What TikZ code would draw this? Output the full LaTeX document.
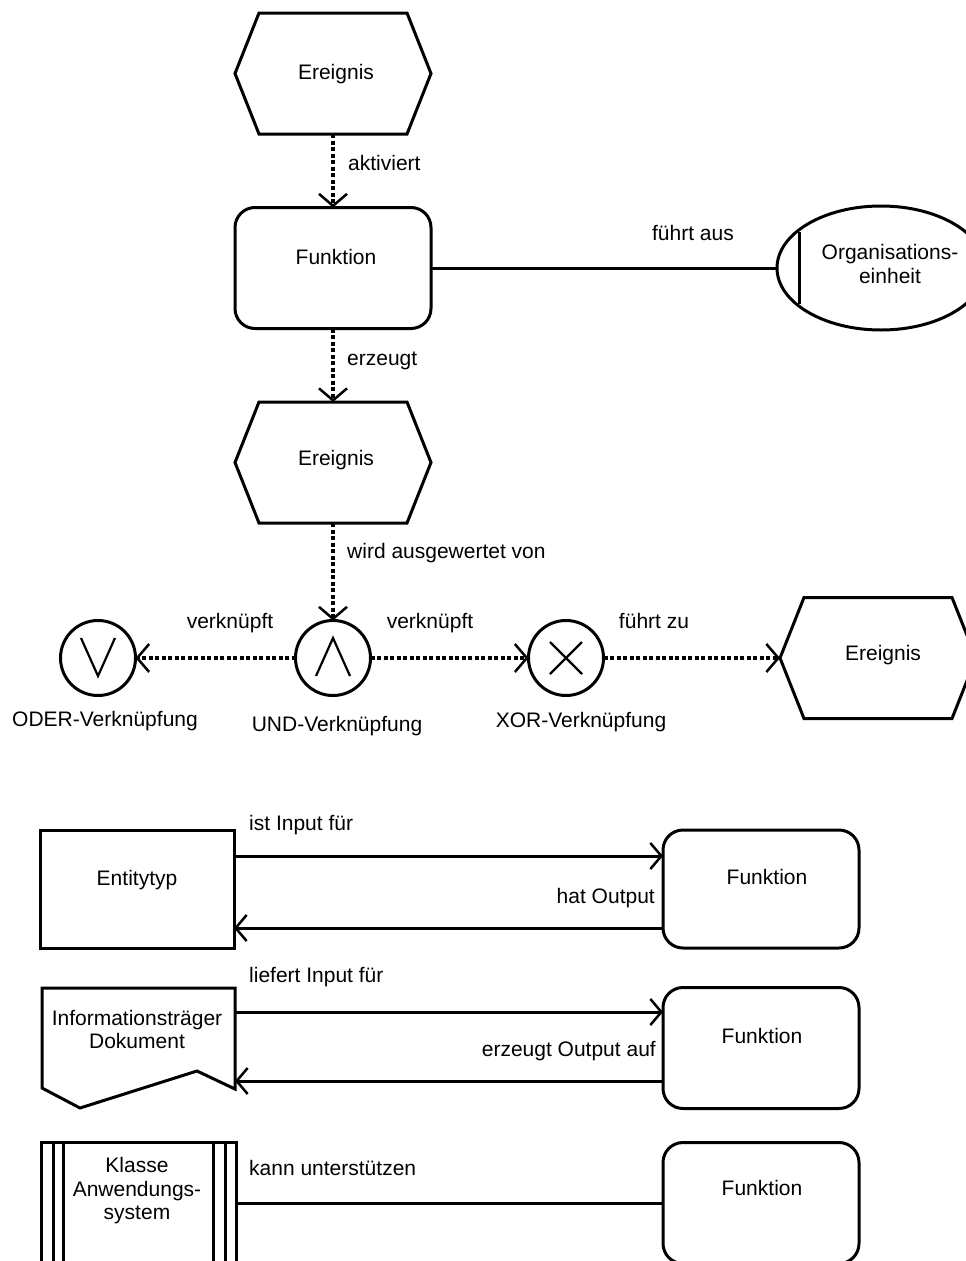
\documentclass[tikz,border=0pt]{standalone}
\usepackage{fontspec}
\setmainfont{Liberation Sans}
\usetikzlibrary{arrows.meta,calc,shapes.geometric}

\begin{document}
\begin{tikzpicture}[x=1pt, y=-1pt,
  txt/.style={font=\fontsize{21}{23.5}\selectfont, inner sep=0pt, text height=15pt, text depth=0pt},
  mtxt/.style={font=\fontsize{21}{23.5}\selectfont, inner sep=0pt, align=center},
  shp/.style={draw, line width=3pt, inner sep=0pt, outer sep=0pt},
  evt/.style={rectangle, inner sep=0pt, outer sep=0pt, minimum width=196pt, minimum height=121pt},
  fnc/.style={shp, rectangle, rounded corners=20pt, minimum width=196pt, minimum height=121pt},
  gate/.style={shp, circle, minimum size=75pt},
  barb/.style={-{Straight Barb[length=12pt,width=28pt,line width=2.5pt]}},
  flow/.style={line width=3.5pt, dash pattern=on 4pt off 2.5pt, barb},
  link/.style={line width=3pt},
  data/.style={line width=3pt, -{Straight Barb[length=11pt,width=26pt,line width=2.5pt]}},
  symb/.style={line width=2.2pt},
]
\useasboundingbox (0,0) rectangle (966,1261);

% ---------- event-driven process chain ----------
\node[evt] (e1) at (333,73.5) {};
\node[fnc] (f1) at (333,268) {};
\node[evt] (e2) at (333,462.5) {};
\node[shp, ellipse, minimum width=208pt, minimum height=124pt] (oe) at (881,268) {};
\node[gate] (or)  at (98,658) {};
\node[gate] (and) at (333,658) {};
\node[gate] (xor) at (566,658) {};
\node[evt] (e3) at (878,658) {};

% event hexagons
\foreach \n in {e1,e2,e3}{
  \draw[line width=3pt]
    (\n.west) -- ([xshift=24pt]\n.north west) -- ([xshift=-24pt]\n.north east)
    -- (\n.east) -- ([xshift=-24pt]\n.south east) -- ([xshift=24pt]\n.south west) -- cycle;
}

% organisational unit bar
\draw[line width=3pt] ($(oe.west)+(22,-36)$) -- ($(oe.west)+(22,36)$);

% connector symbols
\draw[symb] ($(or.center)+(-17,-20)$) -- ($(or.center)+(0,18)$) -- ($(or.center)+(17,-20)$);
\draw[symb] ($(and.center)+(-17,18)$) -- ($(and.center)+(0,-20)$) -- ($(and.center)+(17,18)$);
\draw[symb] ($(xor.center)+(-16,-16)$) -- ($(xor.center)+(16,16)$);
\draw[symb] ($(xor.center)+(-16,16)$) -- ($(xor.center)+(16,-16)$);

% texts in shapes
\node[txt] (e1t) at (336,72) {Ereignis};
\node[txt] (f1t) at (336,257) {Funktion};
\node[txt] (e2t) at (336,458) {Ereignis};
\node[txt] (e3t) at (883,653) {Ereignis};
\node[mtxt] (oet) at (890,264) {Organisations-\\einheit};
\node[txt] (ort)  at (105,719) {ODER-Verknüpfung};
\node[txt] (andt) at (337,724) {UND-Verknüpfung};
\node[txt] (xort) at (581,720) {XOR-Verknüpfung};

% connectors
\draw[flow] (e1.south) -- (f1.north);
\draw[flow] (f1.south) -- (e2.north);
\draw[link] (f1.east) -- (oe.west);
\draw[flow] (e2.south) -- (and.north);
\draw[flow] (and.west) -- (or.east);
\draw[flow] (and.east) -- (xor.west);
\draw[flow] (xor.east) -- (e3.west);

% connector labels
\node[txt, anchor=west] (l1) at (348,163) {aktiviert};
\node[txt, anchor=west] (l2) at (347,358) {erzeugt};
\node[txt] (l3) at (693,233) {führt aus};
\node[txt, anchor=west] (l4) at (347,551) {wird ausgewertet von};
\node[txt] (l5) at (230,621) {verknüpft};
\node[txt] (l6) at (430,621) {verknüpft};
\node[txt] (l7) at (654,621) {führt zu};

% ---------- data, documents and systems ----------
\node[shp, rectangle, minimum width=194pt, minimum height=118pt] (en) at (137,889) {};
\node[fnc, minimum height=118pt] (f2) at (761,889) {};
\node[evt, minimum width=193pt, minimum height=120pt] (doc) at (138.5,1048) {};
\node[fnc] (f3) at (761,1048) {};
\node[shp, rectangle, minimum width=195pt, minimum height=121pt] (cls) at (138.5,1203) {};
\node[fnc] (f4) at (761,1203) {};

% document outline with wavy bottom
\draw[line width=3pt] (doc.north west) -- (doc.north east) -- ([yshift=19pt]doc.south east)
  -- ([xshift=-38pt,yshift=37pt]doc.south east) -- ([xshift=38pt]doc.south west)
  -- ([yshift=20pt]doc.south west) -- cycle;

% application system class bars
\foreach \dx in {12,22}{
  \draw[line width=3pt] ([xshift=\dx pt]cls.north west) -- ([xshift=\dx pt]cls.south west);
}
\foreach \dx in {-11,-23}{
  \draw[line width=3pt] ([xshift=\dx pt]cls.north east) -- ([xshift=\dx pt]cls.south east);
}

\node[txt] (ent) at (137,878) {Entitytyp};
\node[txt] (f2t) at (767,877) {Funktion};
\node[mtxt] (doct) at (137,1029.5) {Informationsträger\\Dokument};
\node[txt] (f3t) at (762,1036) {Funktion};
\node[mtxt] (clst) at (137,1191) {Klasse\\Anwendungs-\\system};
\node[txt] (f4t) at (762,1188) {Funktion};

\draw[data] ([yshift=33pt]en.east) -- ([yshift=33pt]f2.west);
\draw[data] ([yshift=-39pt]f2.west) -- ([yshift=-39pt]en.east);
\draw[data] ([yshift=36pt]doc.east) -- ([yshift=36pt]f3.west);
\draw[data] ([yshift=-33pt]f3.west) -- ([yshift=-33pt]doc.east);
\draw[link] (cls.east) -- (f4.west);

\node[txt, anchor=west] (l8)  at (249,823) {ist Input für};
\node[txt, anchor=east] (l9)  at (655,896) {hat Output};
\node[txt, anchor=west] (l10) at (249,975) {liefert Input für};
\node[txt, anchor=east] (l11) at (656,1049) {erzeugt Output auf};
\node[txt, anchor=west] (l12) at (249,1168) {kann unterstützen};
\end{tikzpicture}
\end{document}
